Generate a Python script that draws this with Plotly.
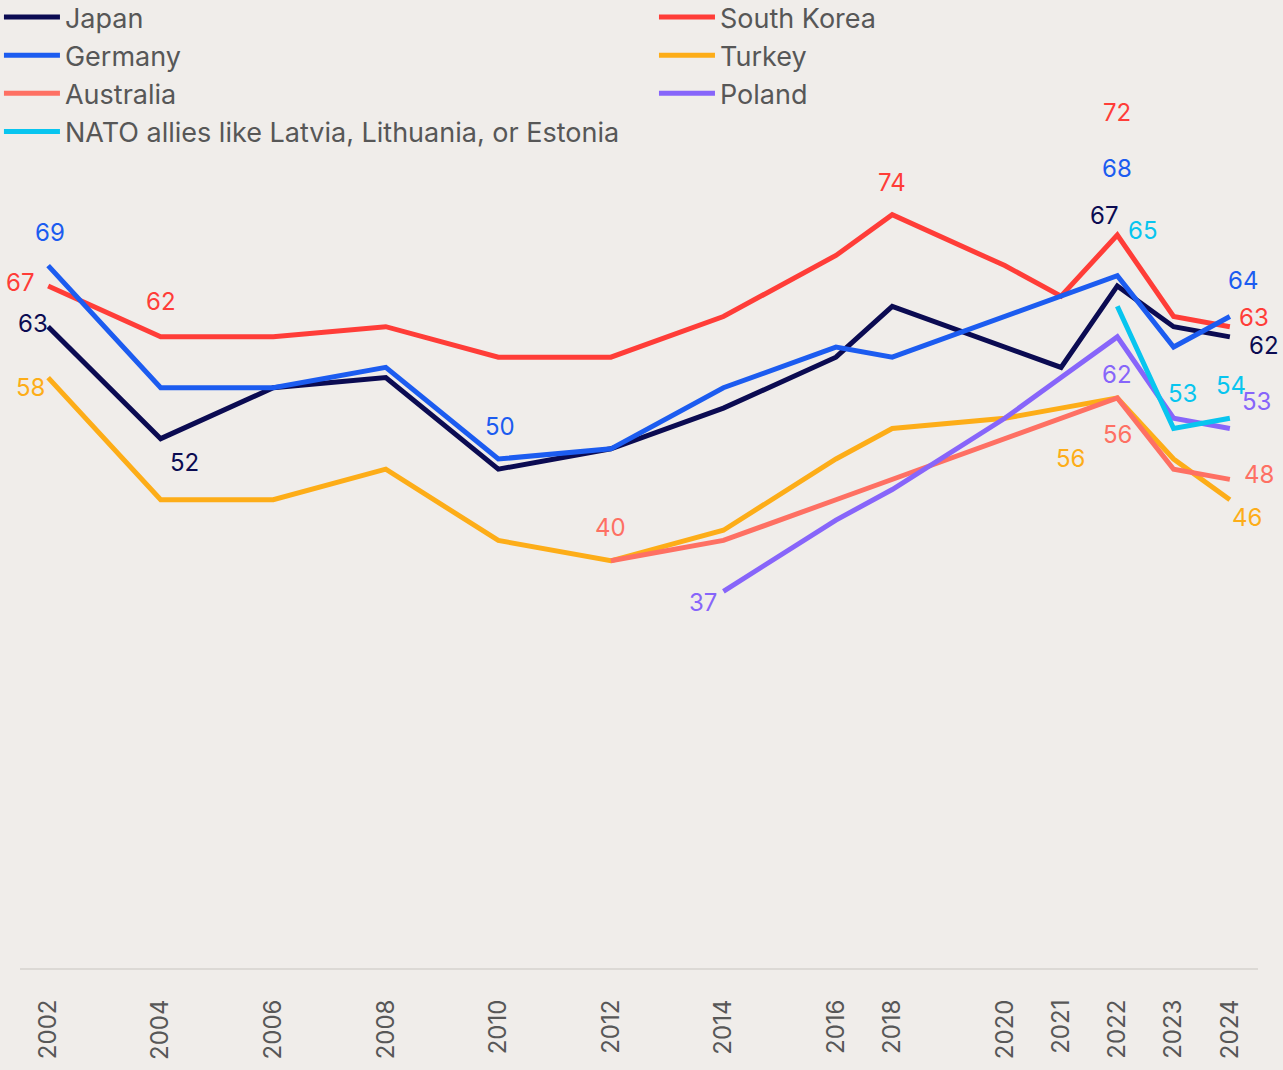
import plotly.graph_objects as go

# ---------------- data ----------------
YEARS = ["2002", "2004", "2006", "2008", "2010", "2012", "2014",
         "2016", "2018", "2020", "2021", "2022", "2023", "2024"]

# category order of the x axis (unlabelled years keep the original spacing)
CATEGORY_ORDER = ["2002", "2003", "2004", "2005", "2006", "2007", "2008",
                  "2009", "2010", "2011", "2012", "2013", "2014", "2015",
                  "2016", "2018", "2019", "2020", "2021", "2022", "2023", "2024"]

JAPAN       = [63, 52, 57, 58, 49, 51, 55, 60, 65, 61, 59, 67, 63, 62]
SOUTH_KOREA = [67, 62, 62, 63, 60, 60, 64, 70, 74, 69, 66, 72, 64, 63]
GERMANY     = [69, 57, 57, 59, 50, 51, 57, 61, 60, 64, 66, 68, 61, 64]
TURKEY      = [58, 46, 46, 49, 42, 40, 43, 50, 53, 54, 55, 56, 50, 46]
AUSTRALIA   = [None, None, None, None, None, 40, 42, 46, 48, 52, 54, 56, 49, 48]
POLAND      = [None, None, None, None, None, None, 37, 44, 47, 54, 58, 62, 54, 53]
NATO        = [None, None, None, None, None, None, None, None, None, None, None, 65, 53, 54]

SERIES_NAMES = ["Japan", "South Korea", "Germany", "Turkey", "Australia",
                "Poland", "NATO allies like Latvia, Lithuania, or Estonia"]
SERIES_VALUES = [JAPAN, SOUTH_KOREA, GERMANY, TURKEY, AUSTRALIA, POLAND, NATO]

# ---------------- styles ----------------
COLORS = {
    "Japan": "#0b0b52",
    "South Korea": "#ff3d38",
    "Germany": "#1c5cf0",
    "Turkey": "#fdad18",
    "Australia": "#fe7063",
    "Poland": "#8765fa",
    "NATO allies like Latvia, Lithuania, or Estonia": "#08c5ef",
}
# which legend column each series goes into
LEGEND_COLUMN = {
    "Japan": "legend", "Germany": "legend", "Australia": "legend",
    "NATO allies like Latvia, Lithuania, or Estonia": "legend",
    "South Korea": "legend2", "Turkey": "legend2", "Poland": "legend2",
}

# (series, year, x shift px, y shift px (down positive)) for data labels
LABELS = [
    ("Germany", "2002", 2, -33), ("South Korea", "2002", -28, -3),
    ("Japan", "2002", -15, -3), ("Turkey", "2002", -18, 10),
    ("South Korea", "2004", 0, -35), ("Japan", "2004", 24, 24),
    ("Germany", "2010", 2, -33), ("Australia", "2012", 0, -33),
    ("Poland", "2014", -20, 11), ("South Korea", "2018", 0, -32),
    ("South Korea", "2022", 0, -123), ("Germany", "2022", 0, -107),
    ("Japan", "2022", -13, -70),
    ("NATO allies like Latvia, Lithuania, or Estonia", "2022", 25, -76),
    ("Poland", "2022", 0, 38), ("Australia", "2022", 0, 37),
    ("Turkey", "2022", -47, 61),
    ("NATO allies like Latvia, Lithuania, or Estonia", "2023", 9, -35),
    ("NATO allies like Latvia, Lithuania, or Estonia", "2024", 1, -33),
    ("Poland", "2024", 27, -27), ("Germany", "2024", 13, -36),
    ("South Korea", "2024", 24, -9), ("Japan", "2024", 34, 9),
    ("Australia", "2024", 29, -5), ("Turkey", "2024", 17, 18),
]

FONT = "Inter, Lato, sans-serif"
BG = "#f0edea"
TEXT = "#575757"

fig = go.Figure()
for name, vals in zip(SERIES_NAMES, SERIES_VALUES):
    fig.add_trace(go.Scatter(
        x=YEARS, y=vals, name=name, mode="lines",
        line=dict(color=COLORS[name], width=5),
        connectgaps=False, hoverinfo="skip",
        legend=LEGEND_COLUMN[name],
    ))

lookup = dict(zip(SERIES_NAMES, SERIES_VALUES))
for name, year, dx, dy in LABELS:
    v = lookup[name][YEARS.index(year)]
    fig.add_annotation(
        x=CATEGORY_ORDER.index(year), y=v, xref="x", yref="y",
        text=str(v), showarrow=False,
        xshift=dx, yshift=-dy,
        font=dict(family=FONT, size=24, color=COLORS[name]),
    )

legend_style = dict(
    orientation="v", xanchor="left", yanchor="top",
    xref="paper", yref="paper", y=1.0072,
    font=dict(family=FONT, size=27, color=TEXT),
    bgcolor="rgba(0,0,0,0)", borderwidth=0, itemwidth=56,
    traceorder="normal", tracegroupgap=0,
)

fig.update_layout(
    width=1283, height=1070,
    paper_bgcolor=BG, plot_bgcolor=BG,
    margin=dict(l=20, r=25, t=0, b=102, autoexpand=False),
    font=dict(family=FONT, color=TEXT),
    legend=dict(legend_style, x=-0.017),
    legend2=dict(legend_style, x=0.5121),
    showlegend=True,
)
fig.update_xaxes(
    type="category", categoryorder="array", categoryarray=CATEGORY_ORDER,
    tickmode="array", tickvals=YEARS, ticktext=YEARS,
    range=[-0.5, len(CATEGORY_ORDER) - 0.5],
    tickangle=-90, ticks="", ticklabelstandoff=20,
    tickfont=dict(family=FONT, size=24, color=TEXT),
    showline=True, linecolor="#dcd9d5", linewidth=2,
    showgrid=False, zeroline=False,
)
fig.update_yaxes(range=[0, 95.09], visible=False, showgrid=False, zeroline=False)

fig.write_html("out.html", config={"displayModeBar": False},
               post_script="document.body.style.margin='0';")
